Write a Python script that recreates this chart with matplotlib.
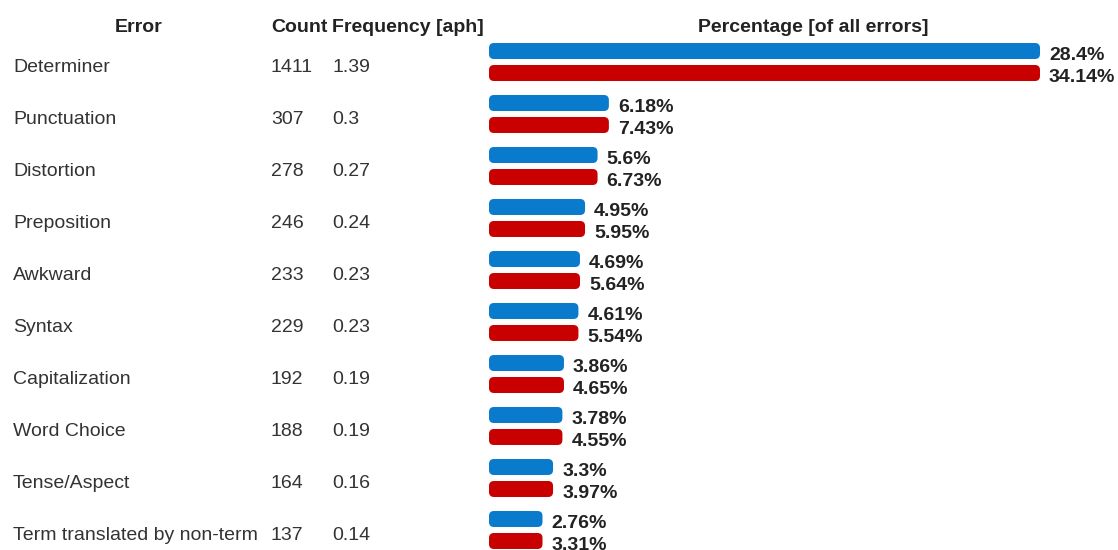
import matplotlib.pyplot as plt
import matplotlib.transforms as mtransforms
from matplotlib.patches import FancyBboxPatch

plt.rcParams['font.family'] = ['Liberation Sans', 'DejaVu Sans']

# table data
errors = ['Determiner', 'Punctuation', 'Distortion', 'Preposition', 'Awkward',
          'Syntax', 'Capitalization', 'Word Choice', 'Tense/Aspect',
          'Term translated by non-term']
counts = [1411, 307, 278, 246, 233, 229, 192, 188, 164, 137]
freqs = ['1.39', '0.3', '0.27', '0.24', '0.23', '0.23', '0.19', '0.19', '0.16', '0.14']
pct_blue = ['28.4%', '6.18%', '5.6%', '4.95%', '4.69%', '4.61%', '3.86%', '3.78%', '3.3%', '2.76%']
pct_red = ['34.14%', '7.43%', '6.73%', '5.95%', '5.64%', '5.54%', '4.65%', '4.55%', '3.97%', '3.31%']

BLUE = '#0a7bcc'
RED = '#c80000'
TXT = '#333333'
HEAD = '#222222'

W, H = 1118, 550
fig = plt.figure(figsize=(W / 100, H / 100), dpi=100)
fig.patch.set_facecolor('white')

# bar area: x in counts, y in rows (row pitch 52 px, first row at 65 px from top)
bar_x0 = 489
px_per_count = 551 / max(counts)
row_px = 52
ax = fig.add_axes([bar_x0 / W, 0, (W - bar_x0) / W, 1])
ax.set_xlim(0, (W - bar_x0) / px_per_count)
ax.set_ylim((H - 65) / row_px, -65 / row_px)
ax.axis('off')

bar_h = 16 / row_px
radius = 5 / px_per_count
aspect = (1 / row_px) / (1 / px_per_count)
gap = 9 / px_per_count

for i, c in enumerate(counts):
    for off, col, lab in ((-14, BLUE, pct_blue[i]), (8, RED, pct_red[i])):
        yc = i + off / row_px
        p = FancyBboxPatch((0, yc - bar_h / 2), c, bar_h,
                           boxstyle=f'round,pad=0,rounding_size={radius}',
                           mutation_aspect=aspect, fc=col, ec='none')
        ax.add_patch(p)
        ax.text(c + gap, yc + 4 / row_px, lab, va='center', ha='left',
                fontsize=14, fontweight='bold', color=HEAD)

# table columns
trans = mtransforms.blended_transform_factory(fig.transFigure, ax.transData)
ty = 2 / row_px
for i in range(len(errors)):
    ax.text(13 / W, i + ty, errors[i], transform=trans, va='center', ha='left',
            fontsize=14, color=TXT)
    ax.text(271 / W, i + ty, str(counts[i]), transform=trans, va='center', ha='left',
            fontsize=14, color=TXT)
    ax.text(332 / W, i + ty, freqs[i], transform=trans, va='center', ha='left',
            fontsize=14, color=TXT)

hy = (25 - 65) / row_px + ty
ax.text(139 / W, hy, 'Error', transform=trans, va='center', ha='center',
        fontsize=14, fontweight='bold', color=HEAD)
ax.text(271 / W, hy, 'Count', transform=trans, va='center', ha='left',
        fontsize=14, fontweight='bold', color=HEAD)
ax.text(332 / W, hy, 'Frequency [aph]', transform=trans, va='center', ha='left',
        fontsize=14, fontweight='bold', color=HEAD)
ax.text(813 / W, hy, 'Percentage [of all errors]', transform=trans, va='center',
        ha='center', fontsize=14, fontweight='bold', color=HEAD)

fig.savefig('out.png', dpi=100)
